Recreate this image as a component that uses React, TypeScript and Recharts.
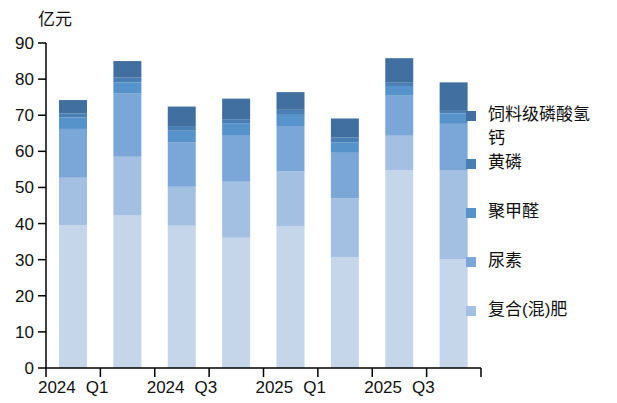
import React from 'react';
import { BarChart, Bar, XAxis, YAxis, Legend } from 'recharts';

const categories = ['2024 Q1', '2024 Q2', '2024 Q3', '2024 Q4', '2025 Q1', '2025 Q2', '2025 Q3', '2025 Q4'];
const phosphateAmmonium = [39.5, 42.2, 39.4, 36.1, 39.2, 30.7, 54.8, 30.2];
const compoundFertilizer = [13.2, 16.3, 10.8, 15.5, 15.2, 16.3, 9.5, 24.6];
const urea = [13.5, 17.5, 12.3, 12.9, 12.6, 12.6, 11.1, 12.8];
const polyformaldehyde = [3.2, 3.1, 3.2, 3.3, 3.1, 2.9, 2.7, 2.9];
const yellowPhosphorus = [1.1, 1.3, 1.3, 1.1, 1.4, 1.3, 0.9, 0.7];
const feedDcp = [3.7, 4.6, 5.4, 5.7, 4.9, 5.3, 6.8, 7.9];
const yTicks = [0, 10, 20, 30, 40, 50, 60, 70, 80, 90];

const series = [
  { key: 'pa', name: '磷铵', values: phosphateAmmonium, color: '#c5d5ea', legend: false },
  { key: 'cf', name: '复合(混)肥', values: compoundFertilizer, color: '#a3bfe2', legend: true },
  { key: 'ur', name: '尿素', values: urea, color: '#7ba7d8', legend: true },
  { key: 'pom', name: '聚甲醛', values: polyformaldehyde, color: '#5693cb', legend: true },
  { key: 'yp', name: '黄磷', values: yellowPhosphorus, color: '#4a7fb5', legend: true },
  { key: 'dcp', name: '饲料级磷酸氢钙', values: feedDcp, color: '#416f9f', legend: true },
];

const data = categories.map((c, i) => {
  const row: Record<string, any> = { name: c };
  series.forEach((s) => {
    row[s.key] = s.values[i];
  });
  return row;
});

const FONT = '"Liberation Sans", "Noto Sans CJK SC", sans-serif';
const PLOT_LEFT = 46;
const PLOT_RIGHT = 481;
const BW = (PLOT_RIGHT - PLOT_LEFT) / categories.length;

const XTick = (props: any) => {
  const { x, y, payload, index } = props;
  const label = String(payload.value);
  const [yr, q] = label.split(' ');
  return (
    <g>
      <line x1={x - BW / 2} x2={x - BW / 2} y1={y} y2={y + 9} stroke="#000" strokeWidth={1.5} />
      {index === categories.length - 1 && (
        <line x1={x + BW / 2} x2={x + BW / 2} y1={y} y2={y + 9} stroke="#000" strokeWidth={1.5} />
      )}
      {index % 2 === 0 && (
        <text x={x} y={y + 25} textAnchor="middle" fontSize={17} fill="#111" fontFamily={FONT}>
          <tspan>{yr}</tspan>
          <tspan dx={10}>{q}</tspan>
        </text>
      )}
    </g>
  );
};

const legendTops = [103, 151, 200, 249, 298];

const LegendContent = () => {
  const items = series.filter((s) => s.legend).slice().reverse();
  return (
    <div style={{ position: 'relative', width: 160, height: 230, fontFamily: FONT }}>
      {items.map((s, i) => (
        <div key={s.key} style={{ position: 'absolute', left: 0, top: legendTops[i] - 100 }}>
          <div
            style={{
              position: 'absolute',
              left: 11,
              top: 8,
              width: 10,
              height: 10,
              background: s.color,
            }}
          />
          <div
            style={{
              position: 'absolute',
              left: 33,
              top: 0,
              width: 106,
              fontSize: 17,
              lineHeight: '24px',
              color: '#111',
              whiteSpace: 'normal',
              wordBreak: 'break-all',
            }}
          >
            {s.name}
          </div>
        </div>
      ))}
    </div>
  );
};

const UnitLabel = (props: any) => {
  const vb = props.viewBox || {};
  return (
    <text x={(vb.x || 0) + 38} y={(vb.y || 0) - 18} fontSize={17} fill="#111" fontFamily={FONT}>
      亿元
    </text>
  );
};

export default function App() {
  return (
    <div style={{ position: 'absolute', left: 0, top: 0, width: 617, height: 403, background: '#fff' }}>
      <BarChart
        width={617}
        height={403}
        data={data}
        margin={{ top: 43, right: 617 - PLOT_RIGHT, bottom: 0, left: 0 }}
        barSize={28}
      >
        <XAxis
          dataKey="name"
          interval={0}
          height={35}
          tickLine={false}
          tickSize={0}
          tickMargin={0}
          stroke="#000"
          strokeWidth={1.5}
          tick={<XTick />}
        />
        <YAxis
          width={PLOT_LEFT}
          domain={[0, 90]}
          ticks={yTicks}
          interval={0}
          tickSize={8}
          tickMargin={4}
          stroke="#000"
          strokeWidth={1.5}
          tick={{ fontSize: 17, fill: '#111', fontFamily: FONT }}
          label={<UnitLabel />}
        />
        <Legend
          layout="vertical"
          align="center"
          verticalAlign="middle"
          wrapperStyle={{ left: 455, top: 100, width: 160 }}
          content={<LegendContent />}
        />
        {series.map((s) => (
          <Bar
            key={s.key}
            dataKey={s.key}
            name={s.name}
            stackId="a"
            fill={s.color}
            isAnimationActive={false}
          />
        ))}
      </BarChart>
    </div>
  );
}
